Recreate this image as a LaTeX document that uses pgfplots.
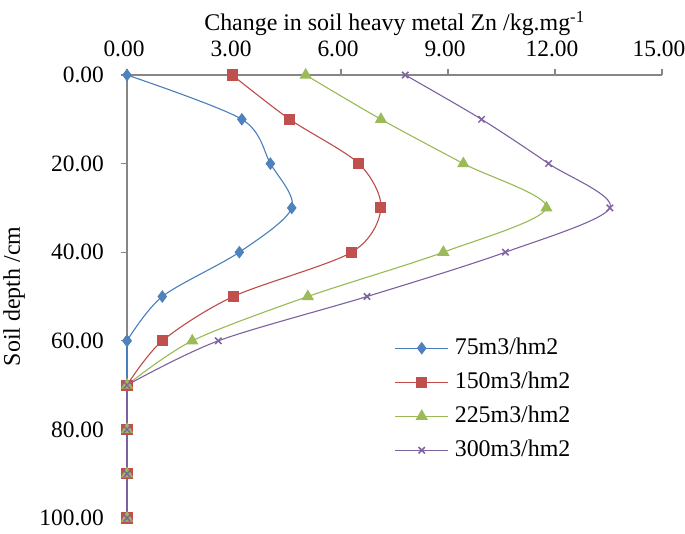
\documentclass[border=0pt]{standalone}
\usepackage{pgfplots}
\pgfplotsset{compat=1.18}
\usepackage{fontspec}
\setmainfont{Liberation Serif}
\definecolor{xblue}{HTML}{4A7EBB}
\definecolor{xred}{HTML}{BE4B48}
\definecolor{xgreen}{HTML}{98B954}
\definecolor{xpurple}{HTML}{7D60A0}
\definecolor{mblue}{HTML}{4F81BD}
\definecolor{mred}{HTML}{C0504D}
\definecolor{mgreen}{HTML}{9BBB59}
\definecolor{mpurple}{HTML}{8064A2}
\definecolor{axgray}{HTML}{868686}
\begin{document}
\begin{tikzpicture}
\begin{axis}[
  scale only axis, width=535bp, height=443bp,
  xmin=0, xmax=15, ymin=0, ymax=100,
  y dir=reverse,
  axis x line=top, axis y line=left,
  axis line style={axgray, line width=1.3pt, -},
  xtick={0,3,6,9,12,15}, ytick={0,20,40,60,80,100},
  xticklabel pos=right,
  tick style={axgray, line width=1.1pt},
  major tick length=6bp,
  tick align=outside,
  xticklabel style={anchor=base, inner sep=0pt, yshift=13bp, xshift=-3bp, font=\fontsize{23.5}{28}\selectfont, /pgf/number format/assume math mode=true, /pgf/number format/fixed, /pgf/number format/fixed zerofill, /pgf/number format/precision=2},
  yticklabel style={anchor=east, inner sep=0pt, xshift=-17bp, font=\fontsize{23.5}{28}\selectfont, /pgf/number format/assume math mode=true, /pgf/number format/fixed, /pgf/number format/fixed zerofill, /pgf/number format/precision=2},
  font=\fontsize{24}{28}\selectfont,
  xlabel={Change in soil heavy metal Zn /kg.mg\textsuperscript{-1}},
  ylabel={Soil depth /cm},
  xlabel style={at={([yshift=44bp]axis description cs:0.5,1)}, anchor=base, inner sep=0pt},
  ylabel style={at={([xshift=-124bp]axis description cs:0,0.5)}, anchor=north, inner sep=0pt},
  legend style={draw=none, fill=none, at={(0.5,0.413)}, anchor=north west, inner sep=0pt, row sep=8bp, column sep=4bp,
    font=\fontsize{24}{28}\selectfont,
    nodes={inner sep=2bp, text height=17bp, text depth=5bp}},
  legend cell align=left,
  legend image code/.code={\draw[#1] (0bp,0bp) -- (53bp,0bp); \draw[#1, mark repeat=1] plot coordinates {(26.5bp,0bp)};},
  every axis plot/.append style={line width=1.1pt, smooth, tension=0.5},
  clip=false,
]
\coordinate (BL) at (axis description cs:0,0);
\coordinate (TR) at (axis description cs:1,1);
% blue
\addplot[xblue, mark=diamond*, mark size=5.5bp, mark options={solid, fill=mblue, draw=mblue}] coordinates {
(0,0) (3.22,10) (4.02,20) (4.62,30) (3.15,40) (0.99,50) (0,60)};
\addlegendentry{75m3/hm2}
\addplot[xred, mark=square*, mark size=5bp, mark options={solid, fill=mred, draw=mred}] coordinates {
(2.95,0) (4.56,10) (6.5,20) (7.12,30) (6.3,40) (2.98,50) (0.99,60) (0,70)};
\addlegendentry{150m3/hm2}
\addplot[xgreen, mark=triangle*, mark size=6bp, mark options={solid, fill=mgreen, draw=mgreen}] coordinates {
(5.01,0) (7.12,10) (9.43,20) (11.76,30) (8.87,40) (5.07,50) (1.83,60) (0,70)};
\addlegendentry{225m3/hm2}
\addplot[xpurple, mark=x, mark size=4.5bp, mark options={solid, line width=1.5pt, draw=mpurple}] coordinates {
(7.8,0) (9.94,10) (11.82,20) (13.54,30) (10.61,40) (6.73,50) (2.56,60) (0,70)};
\addlegendentry{300m3/hm2}
% straight deep segments
\addplot[xblue, sharp plot, mark=diamond*, mark size=5.5bp, mark options={solid, fill=mblue, draw=mblue}, forget plot] coordinates {
(0,60) (0,70) (0,80) (0,90) (0,100)};
\addplot[xred, sharp plot, mark=square*, mark size=5bp, mark options={solid, fill=mred, draw=mred}, forget plot] coordinates {
(0,70) (0,80) (0,90) (0,100)};
\addplot[xgreen, sharp plot, mark=triangle*, mark size=6bp, mark options={solid, fill=mgreen, draw=mgreen}, forget plot] coordinates {
(0,70) (0,80) (0,90) (0,100)};
\addplot[xpurple, sharp plot, mark=x, mark size=4.5bp, mark options={solid, line width=1.5pt, draw=mpurple}, forget plot] coordinates {
(0,70) (0,80) (0,90) (0,100)};
\end{axis}
\pgfresetboundingbox
\path ([shift={(-127bp,-16bp)}]BL) rectangle ([shift={(23bp,75bp)}]TR);
\end{tikzpicture}
\end{document}
